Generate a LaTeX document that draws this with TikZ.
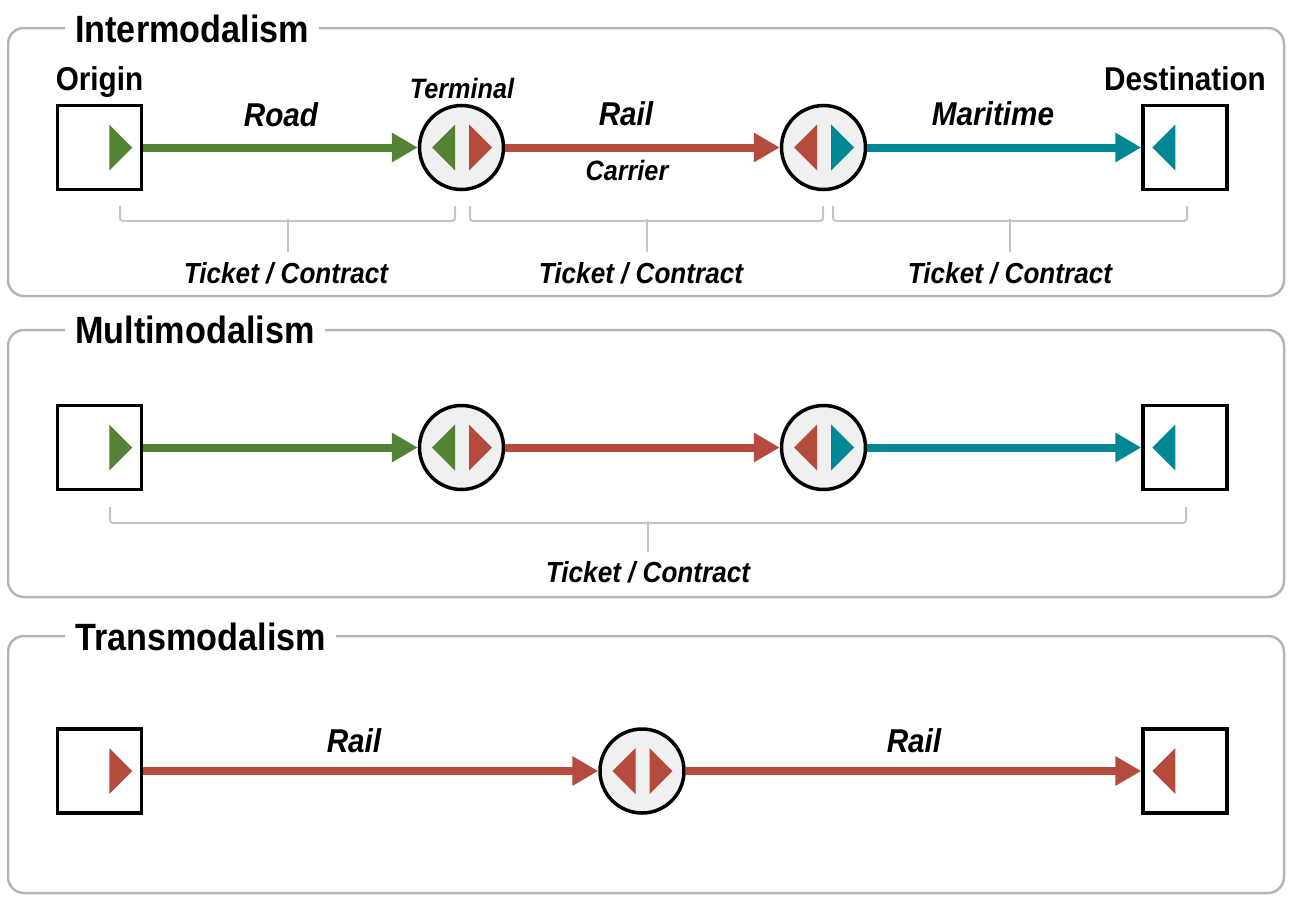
\documentclass[tikz,border=0pt]{standalone}
\usepackage{fontspec}
\setmainfont[FakeStretch=0.9]{Liberation Sans}
\usetikzlibrary{arrows.meta}
\definecolor{cgreen}{HTML}{548235}
\definecolor{cred}{HTML}{B44B3C}
\definecolor{cteal}{HTML}{008794}
\definecolor{cfill}{HTML}{F0F0F0}
\definecolor{cframe}{HTML}{B4B4B4}
\definecolor{cbrack}{HTML}{C4C4C4}
\begin{document}
\begin{tikzpicture}[x=1pt,y=-1pt,
  frame/.style={draw=cframe,line width=2.5pt,rounded corners=16pt},
  ptitle/.style={fill=white,inner xsep=10pt,inner ysep=2pt,anchor=base west,font=\fontsize{38}{40}\selectfont\bfseries},
  endbox/.style={draw=black,line width=3.5pt,minimum width=84pt,minimum height=84pt,inner sep=0pt},
  term/.style={circle,draw=black,fill=cfill,line width=3.5pt,minimum size=84pt,inner sep=0pt},
  lbl/.style={anchor=base,inner sep=0pt,font=\fontsize{33}{35}\selectfont\bfseries},
  ilbl/.style={anchor=base,inner sep=0pt,font=\fontsize{33}{35}\selectfont\bfseries\itshape},
  slbl/.style={anchor=base,inner sep=0pt,font=\fontsize{28}{30}\selectfont\bfseries\itshape},
  tlbl/.style={anchor=base,inner sep=0pt,font=\fontsize{29}{31}\selectfont\bfseries\itshape},
  flow/.style={line width=8pt,-{Triangle[length=26pt,width=28pt]}},
  brack/.style={draw=cbrack,line width=2pt,rounded corners=3pt},
]
\useasboundingbox (0,0) rectangle (1294,897);

% ---------- frames ----------
\draw[frame] (8,28) rectangle (1284,296);
\draw[frame] (8,330) rectangle (1284,597);
\draw[frame] (8,636) rectangle (1284,893);
\node[ptitle] (t1) at (65,42) {Intermodalism};
\node[ptitle] (t2) at (65,343) {Multimodalism};
\node[ptitle] (t3) at (65,650) {Transmodalism};

% ---------- panel 1 ----------
\node[endbox] (o1) at (99.5,147.5) {};
\node[term]   (a1) at (461.5,147.5) {};
\node[term]   (b1) at (823.5,147.5) {};
\node[endbox] (d1) at (1185,147.5) {};
\fill[cgreen] ([xshift=-34pt,yshift=-23pt]o1.east) -- ([xshift=-11pt]o1.east) -- ([xshift=-34pt,yshift=23pt]o1.east) -- cycle;
\fill[cgreen] ([xshift=-6.5pt,yshift=-23pt]a1.center) -- ([xshift=-29.5pt]a1.center) -- ([xshift=-6.5pt,yshift=23pt]a1.center) -- cycle;
\fill[cred] ([xshift=7.5pt,yshift=-23pt]a1.center) -- ([xshift=30.5pt]a1.center) -- ([xshift=7.5pt,yshift=23pt]a1.center) -- cycle;
\fill[cred] ([xshift=-6.5pt,yshift=-23pt]b1.center) -- ([xshift=-29.5pt]b1.center) -- ([xshift=-6.5pt,yshift=23pt]b1.center) -- cycle;
\fill[cteal] ([xshift=7.5pt,yshift=-23pt]b1.center) -- ([xshift=30.5pt]b1.center) -- ([xshift=7.5pt,yshift=23pt]b1.center) -- cycle;
\fill[cteal] ([xshift=34pt,yshift=-23pt]d1.west) -- ([xshift=11pt]d1.west) -- ([xshift=34pt,yshift=23pt]d1.west) -- cycle;
\draw[flow,cgreen] (o1.east) -- (a1.west);
\draw[flow,cred] (a1.east) -- (b1.west);
\draw[flow,cteal] (b1.east) -- (d1.west);
\node[lbl] (lo) at (99.5,90) {Origin};
\node[lbl] (ld) at (1185,90) {Destination};
\node[slbl] (lt) at (462,98) {Terminal};
\node[ilbl] (lr1) at (281,126) {Road};
\node[ilbl] (lr2) at (626,125) {Rail};
\node[slbl] (lc) at (627,180) {Carrier};
\node[ilbl] (lm) at (993,125) {Maritime};
\draw[brack] (120,206) -- (120,221) -- (455,221) -- (455,206);
\draw[draw=cbrack,line width=2pt] (288,219) -- (288,252);
\draw[brack] (470,206) -- (470,221) -- (823,221) -- (823,206);
\draw[draw=cbrack,line width=2pt] (647,219) -- (647,252);
\draw[brack] (833,206) -- (833,221) -- (1187,221) -- (1187,206);
\draw[draw=cbrack,line width=2pt] (1010,219) -- (1010,252);
\node[tlbl] (k1) at (286,283) {Ticket / Contract};
\node[tlbl] (k2) at (641,283) {Ticket / Contract};
\node[tlbl] (k3) at (1010,283) {Ticket / Contract};

% ---------- panel 2 ----------
\node[endbox] (o2) at (99.5,447.5) {};
\node[term]   (a2) at (461.5,447.5) {};
\node[term]   (b2) at (823.5,447.5) {};
\node[endbox] (d2) at (1185,447.5) {};
\fill[cgreen] ([xshift=-34pt,yshift=-23pt]o2.east) -- ([xshift=-11pt]o2.east) -- ([xshift=-34pt,yshift=23pt]o2.east) -- cycle;
\fill[cgreen] ([xshift=-6.5pt,yshift=-23pt]a2.center) -- ([xshift=-29.5pt]a2.center) -- ([xshift=-6.5pt,yshift=23pt]a2.center) -- cycle;
\fill[cred] ([xshift=7.5pt,yshift=-23pt]a2.center) -- ([xshift=30.5pt]a2.center) -- ([xshift=7.5pt,yshift=23pt]a2.center) -- cycle;
\fill[cred] ([xshift=-6.5pt,yshift=-23pt]b2.center) -- ([xshift=-29.5pt]b2.center) -- ([xshift=-6.5pt,yshift=23pt]b2.center) -- cycle;
\fill[cteal] ([xshift=7.5pt,yshift=-23pt]b2.center) -- ([xshift=30.5pt]b2.center) -- ([xshift=7.5pt,yshift=23pt]b2.center) -- cycle;
\fill[cteal] ([xshift=34pt,yshift=-23pt]d2.west) -- ([xshift=11pt]d2.west) -- ([xshift=34pt,yshift=23pt]d2.west) -- cycle;
\draw[flow,cgreen] (o2.east) -- (a2.west);
\draw[flow,cred] (a2.east) -- (b2.west);
\draw[flow,cteal] (b2.east) -- (d2.west);
\draw[brack] (110,507) -- (110,523) -- (1186,523) -- (1186,507);
\draw[draw=cbrack,line width=2pt] (648,521) -- (648,552);
\node[tlbl] (k4) at (648,582) {Ticket / Contract};

% ---------- panel 3 ----------
\node[endbox] (o3) at (99.5,771) {};
\node[term]   (a3) at (642,771) {};
\node[endbox] (d3) at (1185,771) {};
\fill[cred] ([xshift=-34pt,yshift=-23pt]o3.east) -- ([xshift=-11pt]o3.east) -- ([xshift=-34pt,yshift=23pt]o3.east) -- cycle;
\fill[cred] ([xshift=-6.5pt,yshift=-23pt]a3.center) -- ([xshift=-29.5pt]a3.center) -- ([xshift=-6.5pt,yshift=23pt]a3.center) -- cycle;
\fill[cred] ([xshift=7.5pt,yshift=-23pt]a3.center) -- ([xshift=30.5pt]a3.center) -- ([xshift=7.5pt,yshift=23pt]a3.center) -- cycle;
\fill[cred] ([xshift=34pt,yshift=-23pt]d3.west) -- ([xshift=11pt]d3.west) -- ([xshift=34pt,yshift=23pt]d3.west) -- cycle;
\draw[flow,cred] (o3.east) -- (a3.west);
\draw[flow,cred] (a3.east) -- (d3.west);
\node[ilbl] (lr3) at (354,752) {Rail};
\node[ilbl] (lr4) at (914,752) {Rail};
\end{tikzpicture}
\end{document}
